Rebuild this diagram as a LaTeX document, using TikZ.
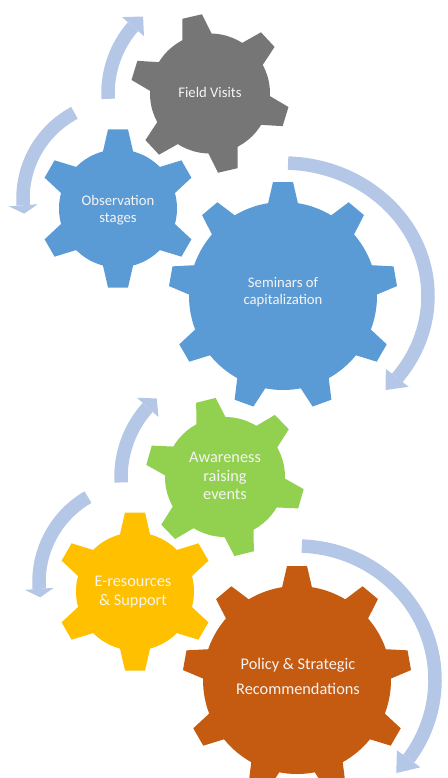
\documentclass[tikz,border=0pt]{standalone}
\usepackage{fontspec}
\setmainfont{Carlito}
\definecolor{gearGray}{HTML}{767676}
\definecolor{gearBlue}{HTML}{5B9BD5}
\definecolor{gearGreen}{HTML}{92D050}
\definecolor{gearYellow}{HTML}{FFC000}
\definecolor{gearOrange}{HTML}{C55A11}
\definecolor{arrowBlue}{HTML}{B4C7E7}
\definecolor{labelWhite}{HTML}{F4F4F4}
\tikzset{
  pics/gearshape/.style n args={5}{code={
    \fill[#5] (0,0) circle[radius=#2pt];
    \foreach \k in {1,...,#3}{
      \fill[#5, rotate={#4+(\k-1)*360/#3}] ({#2-6},-16) -- (#1,-10) -- (#1,10) -- ({#2-6},16) -- cycle;
    }
  }},
  pics/cyclearrow/.style n args={5}{code={
    \draw[arrowBlue, line width=13.5pt] (#3:#1 and #2) arc[start angle=#3, end angle=#4, x radius=#1pt, y radius=#2pt];
    \fill[arrowBlue] (#4:{#1+14.5} and {#2+14.5}) -- (#5:#1 and #2) -- (#4:{#1-14.5} and {#2-14.5}) -- cycle;
  }},
  smalllabel/.style={text=labelWhite, align=center, font=\fontsize{14.7}{17.6}\selectfont, inner sep=0pt},
  biglabel/.style={text=labelWhite, align=center, font=\fontsize{16.3}{18.6}\selectfont, inner sep=0pt}
}
\begin{document}
\begin{tikzpicture}[x=1pt,y=1pt]
\useasboundingbox (0,0) rectangle (447,-778);
% gears
\pic at (210,-93.5) {gearshape={79}{60}{6}{103}{gearGray}};
\pic at (118,-208.5) {gearshape={79}{59}{6}{90}{gearBlue}};
\pic at (283,-296) {gearshape={114}{94}{9}{90}{gearBlue}};
\pic at (225,-477) {gearshape={79}{60}{6}{104}{gearGreen}};
\pic at (135,-591.5) {gearshape={79}{59}{6}{90}{gearYellow}};
\pic at (297,-680) {gearshape={114}{94}{9}{90}{gearOrange}};
% arrows
\pic at (210,-93.5) {cyclearrow={102}{102}{183}{139}{131}};
\pic at (120,-198.5) {cyclearrow={97}{97}{118}{184}{189}};
\pic at (283,-296) {cyclearrow={145}{133}{88}{-38}{-45}};
\pic at (225,-477) {cyclearrow={104}{104}{183}{138}{131}};
\pic at (137,-582) {cyclearrow={98}{98}{120}{184}{189}};
\pic at (297,-680) {cyclearrow={138}{134}{88}{-36}{-44}};
% labels
\node[smalllabel] (fieldvisits) at (210,-92) {Field Visits};
\node[smalllabel] (observation) at (118,-210) {Observation\\stages};
\node[smalllabel] (seminars) at (283,-292) {Seminars of\\capitalization};
\node[biglabel] (awareness) at (225,-476) {Awareness\\raising\\events};
\node[biglabel] (eresources) at (133,-592) {E-resources\\\& Support};
\node[biglabel, font=\fontsize{16.3}{25}\selectfont] (policy) at (298,-676) {Policy \& Strategic\\Recommendations};
\end{tikzpicture}
\end{document}
